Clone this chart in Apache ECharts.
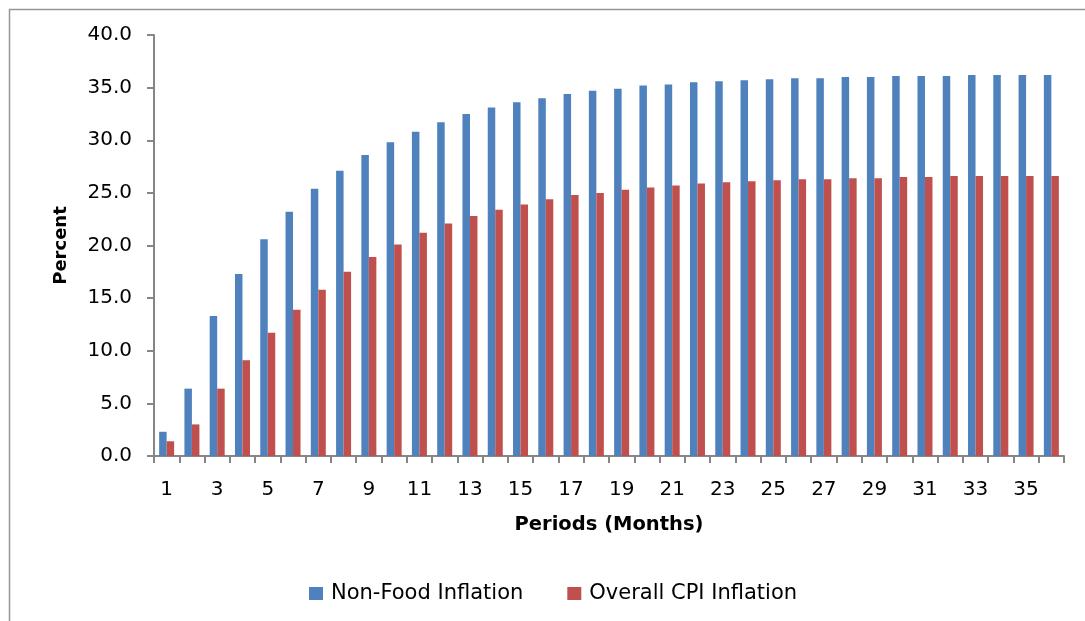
<!DOCTYPE html>
<html>
<head>
<meta charset="utf-8">
<script src="https://cdn.jsdelivr.net/npm/echarts@6/dist/echarts.min.js"></script>
<style>
  html, body { margin: 0; padding: 0; background: #fff; }
  #chart { width: 1085px; height: 621px; }
</style>
</head>
<body>
<div id="chart"></div>
<script>
// Periods 1..36 (months)
const periods = ['1','2','3','4','5','6','7','8','9','10','11','12','13','14','15','16','17','18',
  '19','20','21','22','23','24','25','26','27','28','29','30','31','32','33','34','35','36'];

// Cumulative inflation, percent
const nonFoodInflation = [2.3, 6.4, 13.3, 17.3, 20.6, 23.2, 25.4, 27.1, 28.6, 29.8, 30.8, 31.7,
  32.5, 33.1, 33.6, 34.0, 34.4, 34.7, 34.9, 35.2, 35.3, 35.5, 35.6, 35.7,
  35.8, 35.9, 35.9, 36.0, 36.0, 36.1, 36.1, 36.1, 36.2, 36.2, 36.2, 36.2];
const overallCpiInflation = [1.4, 3.0, 6.4, 9.1, 11.7, 13.9, 15.8, 17.5, 18.9, 20.1, 21.2, 22.1,
  22.8, 23.4, 23.9, 24.4, 24.8, 25.0, 25.3, 25.5, 25.7, 25.9, 26.0, 26.1,
  26.2, 26.3, 26.3, 26.4, 26.4, 26.5, 26.5, 26.6, 26.6, 26.6, 26.6, 26.6];

const seriesNames = ['Non-Food Inflation', 'Overall CPI Inflation'];
const yTitle = 'Percent';
const xTitle = 'Periods (Months)';

const axisGray = '#868686';
const textFont = 'DejaVu Sans';

const chart = echarts.init(document.getElementById('chart'), null, { renderer: 'canvas' });

chart.setOption({
  animation: false,
  backgroundColor: '#ffffff',
  // chart-area frame: top and left edges
  graphic: [
    {
      type: 'polyline',
      shape: { points: [[9.5, 640], [9.5, 9.5], [1100, 9.5]] },
      style: { fill: null, stroke: '#969696', lineWidth: 1.5 },
      silent: true
    }
  ],
  grid: { left: 154, top: 35, width: 910, height: 421, containLabel: false },
  legend: {
    data: seriesNames,
    top: 578,
    left: 304,
    itemWidth: 14,
    itemHeight: 13,
    itemGap: 44,
    icon: 'rect',
    textStyle: { fontFamily: textFont, fontSize: 21, color: '#000', padding: [0, 0, 0, 3] }
  },
  xAxis: {
    type: 'category',
    data: periods,
    name: xTitle,
    nameLocation: 'middle',
    nameGap: 59,
    nameTextStyle: { fontFamily: textFont, fontSize: 19.5, fontWeight: 'bold', color: '#000' },
    axisLine: { lineStyle: { color: axisGray, width: 2 } },
    axisTick: { show: true, interval: 0, length: 7, lineStyle: { color: axisGray, width: 2 } },
    axisLabel: { interval: 1, margin: 24, fontFamily: textFont, fontSize: 20, color: '#000' },
    splitLine: { show: false }
  },
  yAxis: {
    type: 'value',
    min: 0,
    max: 40,
    interval: 5,
    name: yTitle,
    nameLocation: 'middle',
    nameGap: 84,
    nameRotate: 90,
    nameTextStyle: { fontFamily: textFont, fontSize: 18, fontWeight: 'bold', color: '#000' },
    axisLine: { show: true, lineStyle: { color: axisGray, width: 2 } },
    axisTick: { show: true, length: 7, lineStyle: { color: axisGray, width: 2 } },
    axisLabel: {
      margin: 22,
      fontFamily: textFont,
      fontSize: 20,
      color: '#000',
      formatter: v => v.toFixed(1)
    },
    splitLine: { show: false }
  },
  series: [
    {
      name: seriesNames[0],
      type: 'bar',
      data: nonFoodInflation,
      barWidth: 7.5,
      barGap: '0%',
      itemStyle: { color: '#4F81BD' }
    },
    {
      name: seriesNames[1],
      type: 'bar',
      data: overallCpiInflation,
      barWidth: 7.5,
      barGap: '0%',
      itemStyle: { color: '#C0504D' }
    }
  ]
});
</script>
</body>
</html>
